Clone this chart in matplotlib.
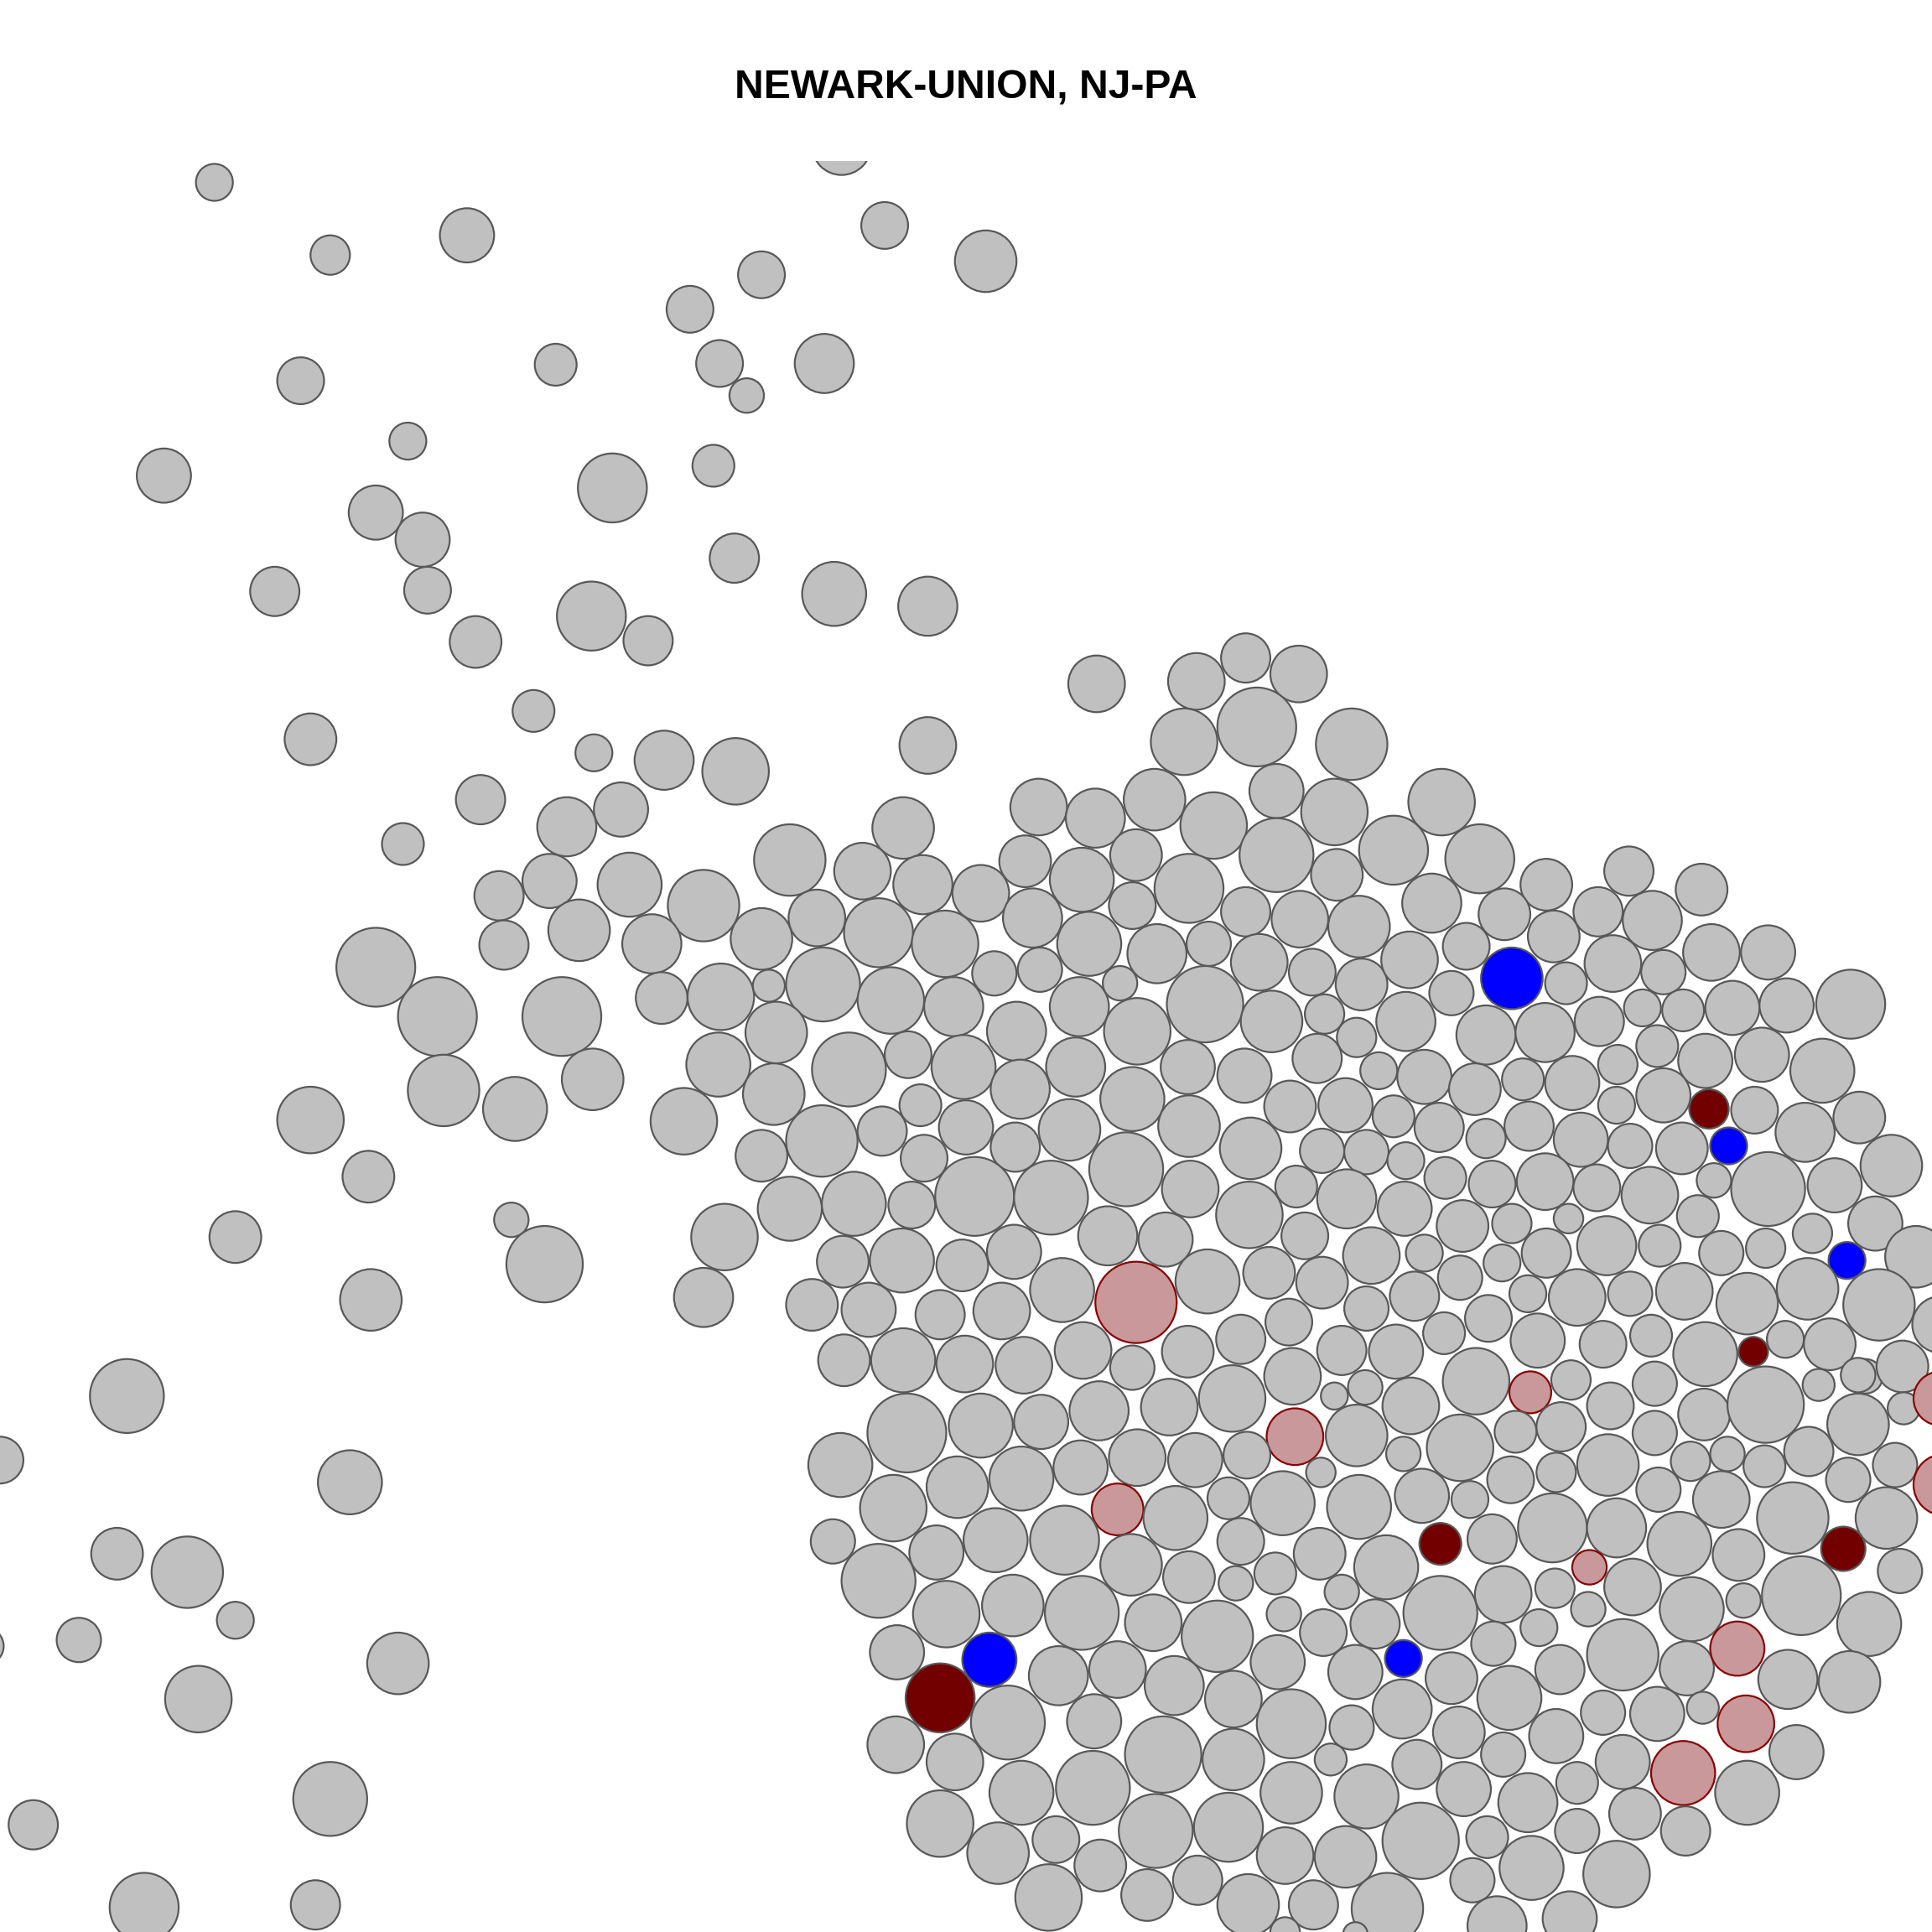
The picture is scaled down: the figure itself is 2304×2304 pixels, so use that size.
import matplotlib
matplotlib.use("Agg")
import matplotlib.pyplot as plt
from matplotlib.patches import Circle
from matplotlib.collections import PatchCollection

TITLE = "NEWARK-UNION, NJ-PA"

# category: 0 = other (gray), 1 = blue, 2 = dark red, 3 = light red
x = [683,174,268,379,718,800,618,560,244,451,584,669,606,331,133,579,497,305,343,596,
     223,347,677,753,480,386,526,433,252,482,539,597,753,890,971,1011,1054,961,1020,1097,
     390,504,460,327,733,641,843,889,937,985,1036,1083,1170,405,446,511,571,700,749,796,
     832,878,922,965,1036,1085,1131,1201,1255,1322,1381,409,470,529,618,663,713,767,838,884,
     919,1011,1055,1103,1162,1221,1261,1297,1341,305,355,456,537,585,624,668,723,774,807,844,
     876,909,939,981,978,1022,1065,1105,1144,1190,1227,1178,1271,1309,1350,1389,1435,1333,1366,1406,
     1450,1502,1141,1206,1254,1298,1032,1075,1101,923,825,630,583,689,737,782,828,873,964,1010,
     1069,1119,1156,1197,1236,1276,1313,1345,1384,1430,1479,360,418,481,252,555,628,747,919,1047,
     1092,1131,1168,1206,1241,1283,1312,1350,1387,1424,1465,1509,299,618,667,716,750,784,824,868,
     965,1015,1073,1109,1141,1173,1211,1254,1296,1323,1365,1403,1391,1435,1489,1535,191,415,442,301,
     588,571,641,693,740,791,853,914,966,899,946,1014,1052,1093,1140,1187,1227,1273,1255,1304,
     1339,1378,1347,1397,1433,1471,1522,1555,1499,684,732,781,823,659,705,763,813,862,922,980,
     1030,1059,1073,1113,1156,1185,1219,1240,1148,1109,1280,1323,1367,1418,1467,1525,1575,685,733,783,
     831,879,919,964,1007,1046,1089,1133,1172,1208,1248,1301,1340,1384,1423,1449,1485,1514,1544,103,
     0,284,736,682,796,845,892,949,1000,1049,1083,1108,1145,1198,1242,1275,1307,1343,1383,1433,
     1476,1508,1508,1545,1575,1051,1101,1139,1185,1230,1267,1305,1343,1372,1402,1432,1468,1500,1538,1578,
     725,777,829,877,923,970,1012,1072,1041,1103,1154,1193,1226,1263,1346,1397,1455,1531,907,954,
     997,760,808,864,676,713,918,965,1007,1003,1035,1071,1125,1169,1211,1260,1312,1363,1411,1496,
     1290,1542,95,152,191,64,-12,323,161,768,822,878,936,988,1042,1089,1074,1116,1169,1220,
     1262,1289,1325,1373,1415,1462,1517,728,803,859,907,953,1037,1100,1139,1178,1212,1249,1266,1317,
     1369,1410,1451,1501,763,818,888,1001,1048,1138,1097,1184,1225,1301,1345,1382,1417,727,775,944,
     1001,1080,1150,1220,1263,1317,1366,1458,829,887,1048,1109,1188,1240,1280,1327,1418,268,27,763,
     857,938,997,1153,1092,1207,1280,1368,810,893,972,1043,1243,1312,1195,117,256,851,931,1013,
     1066,1126,1215,1274,1043,1100]
y = [118,148,207,191,183,212,223,251,309,296,295,295,321,358,386,378,396,416,438,453,
     480,479,482,492,500,521,520,577,600,611,617,626,605,555,553,534,547,602,590,604,
     649,657,671,685,672,698,655,664,649,670,642,659,651,727,715,718,735,707,718,725,
     699,714,694,721,694,710,690,697,718,707,722,767,755,766,762,745,757,766,745,766,
     735,740,746,752,733,742,760,740,747,785,825,825,810,809,800,799,812,817,790,787,
     817,798,774,766,815,781,789,799,779,768,794,806,798,782,789,773,773,818,820,818,
     816,815,829,840,838,829,829,823,842,837,837,838,864,868,856,866,884,866,866,873,
     859,869,874,884,876,879,864,849,861,856,869,885,900,876,909,910,888,897,892,898,
     897,906,915,924,914,925,897,889,900,901,919,907,955,938,926,918,940,915,931,917,
     914,932,934,935,942,956,961,959,964,930,932,930,958,965,962,946,1004,990,1026,1055,
     1004,1053,981,977,978,971,972,949,965,1003,1006,986,963,973,981,995,993,989,1017,1011,
     970,987,1011,1017,1013,1001,993,1020,1023,1024,1023,1027,1016,1059,1063,1067,1064,1047,1057,1040,
     1033,1003,1041,1019,1017,1037,1025,1050,1052,1062,1053,1050,1048,1058,1046,1059,1075,1104,1104,1107,
     1108,1096,1110,1097,1087,1073,1096,1097,1082,1070,1088,1091,1084,1099,1097,1087,1091,1117,1109,1133,
     1185,1203,1163,1189,1157,1154,1145,1142,1135,1117,1133,1126,1141,1121,1130,1120,1141,1123,1148,1140,
     1124,1116,1156,1143,1135,1166,1165,1180,1175,1162,1158,1189,1163,1186,1180,1190,1178,1201,1189,1205,
     1224,1207,1200,1191,1183,1185,1181,1195,1220,1223,1214,1217,1201,1195,1209,1217,1232,1232,1225,1232,
     1216,1260,1250,1250,1251,1283,1270,1280,1251,1285,1277,1261,1272,1253,1249,1240,1240,1253,1262,1257,
     1272,1275,1261,1276,1315,1331,1336,1350,1379,1310,1303,1309,1317,1328,1310,1292,1325,1318,1309,1294,
     1289,1306,1288,1306,1299,1295,1318,1341,1347,1360,1355,1368,1349,1357,1346,1362,1334,1321,1355,1343,
     1354,1338,1363,1365,1378,1398,1397,1379,1399,1387,1402,1406,1378,1390,1391,1386,1399,1416,1430,1424,
     1428,1428,1432,1424,1409,1430,1439,1422,1455,1451,1455,1458,1452,1463,1447,1472,1455,1460,1481,1480,
     1493,1486,1483,1494,1507,1491,1486,1486,1504,1514,1526,1506,1516,1521,1526,1548,1546,1540,1538,1546,
     1546,1549,1563,1557,1568,1570]
r = [24,15,16,22,19,25,19,19,19,17,19,24,14,15,22,17,28,22,22,20,
     20,19,26,24,28,21,20,17,21,15,24,27,23,23,23,20,23,27,32,29,
     20,22,24,17,25,29,23,24,25,27,22,27,27,20,22,26,29,23,24,23,
     21,26,21,28,30,21,28,28,21,20,21,20,25,24,25,23,28,27,24,26,
     19,20,23,25,24,21,21,20,24,32,32,32,21,27,13,30,27,24,18,18,
     24,14,24,18,31,23,19,21,23,19,25,18,17,23,18,23,22,15,17,22,
     22,28,24,24,24,20,25,16,16,27,24,25,26,30,19,26,24,24,22,22,
     20,15,22,21,17,22,16,17,22,22,26,29,26,25,27,27,25,17,26,21,
     22,17,20,16,20,22,15,22,16,19,24,21,21,21,29,20,19,22,20,25,
     25,25,18,18,15,17,19,23,19,18,21,15,14,30,22,25,21,14,31,25,
     27,24,26,26,19,32,30,30,23,24,22,27,17,24,22,21,16,12,20,24,
     23,17,17,18,16,16,22,25,15,21,26,21,22,21,22,20,23,26,33,26,
     21,19,21,23,15,18,15,15,20,18,23,18,23,25,25,29,23,21,26,23,
     23,23,18,21,20,19,20,22,17,19,22,19,17,26,12,15,21,14,21,30,
     19,26,32,26,26,22,24,23,27,23,11,14,23,27,17,16,19,18,21,31,
     13,14,25,13,22,23,25,14,27,17,20,25,18,16,14,17,20,18,18,25,
     27,25,26,22,23,22,19,12,26,26,22,15,19,16,18,23,29,25,21,26,
     17,22,26,28,18,30,25,21,19,14,17,21,26,17,20,28,24,26,21,18,
     14,18,21,29,15,18,15,25,27,27,25,30,23,29,14,14,19,20,30,23,
     16,14,23,26,14,32,26,22,22,24,23,24,22,22,15,21,18,15,20,29,
     22,22,24,25,28,30,22,23,28,24,18,21,26,18,22,13,23,23,23,31,
     25,13,20,18,22,22,26,22,26,30,25,26,22,24,17,21,26,30,20,27,
     19,30,28,31,25,17,18,20,25,21,20,23,26,27,18,28,20,27,21,25,
     20,29,24,22,12,10]
cat = [0]*len(x)
for i in (110, 191, 228, 388, 394):
    cat[i] = 1
for i in (168, 274, 353, 359, 404):
    cat[i] = 2
for i in (238, 294, 304, 305, 319, 338, 360, 401, 416, 426):
    cat[i] = 3

FILL = {0: "#c0c0c0", 1: "#0000ff", 2: "#730000", 3: "#c8989a"}
EDGE = {0: "#585858", 1: "#585858", 2: "#585858", 3: "#8b0000"}

fig = plt.figure(figsize=(8, 8), dpi=288)
fig.patch.set_facecolor("white")
top = 1 - 131 / 1568
ax = fig.add_axes([0, 0, 1, top])
ax.set_xlim(0, 1568)
ax.set_ylim(1568, 131)
ax.set_axis_off()

patches = [Circle((xi, yi), ri) for xi, yi, ri in zip(x, y, r)]
pc = PatchCollection(patches, facecolors=[FILL[c] for c in cat],
                     edgecolors=[EDGE[c] for c in cat], linewidths=0.55)
ax.add_collection(pc)

fig.text(0.5, 0.949, TITLE, ha="center", va="baseline",
         fontsize=12, fontweight="bold", family=["Liberation Sans", "DejaVu Sans"])

fig.savefig("out.png", dpi=288, facecolor="white")
